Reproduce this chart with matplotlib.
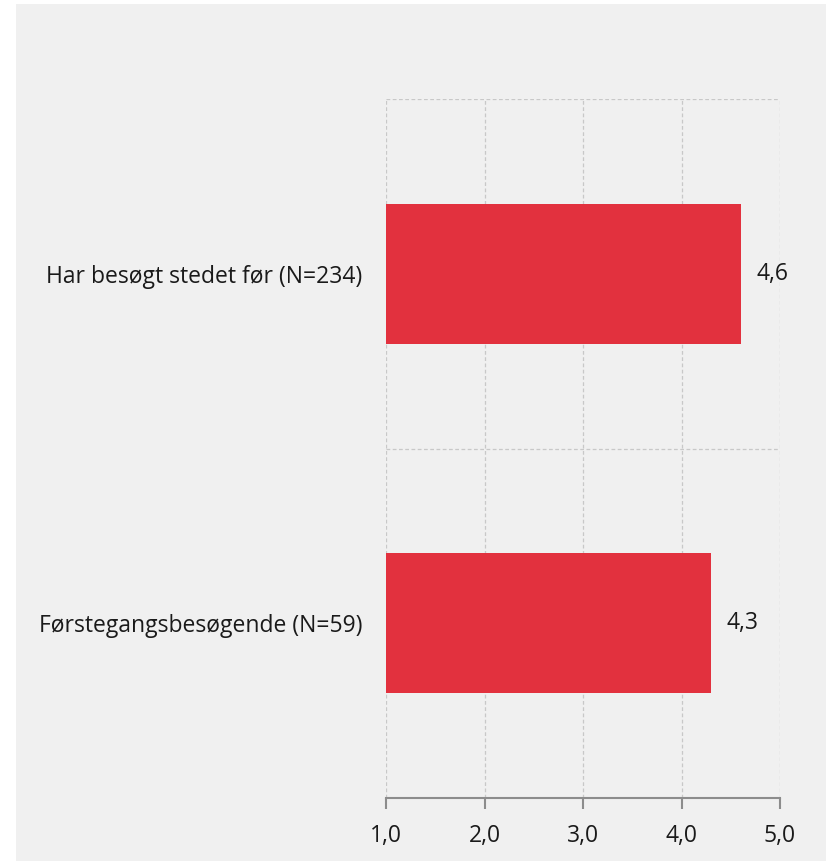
import matplotlib.pyplot as plt
from matplotlib.patches import Rectangle

categories = ["Førstegangsbesøgende (N=59)", "Har besøgt stedet før (N=234)"]
values = [4.3, 4.6]
xticks = [1.0, 2.0, 3.0, 4.0, 5.0]
xtick_labels = ["1,0", "2,0", "3,0", "4,0", "5,0"]

plt.rcParams["font.family"] = ["Open Sans", "DejaVu Sans"]

BG = "#f0f0f0"
BAR = "#e2313e"
GRID = "#c8c8c8"
FS = 16.5

fig = plt.figure(figsize=(8.26, 8.61), dpi=100)
fig.patch.set_facecolor("white")
fig.patches.append(Rectangle((16 / 826, 0), 1 - 16 / 826, 1 - 4 / 861,
                             transform=fig.transFigure, facecolor=BG,
                             edgecolor="none", zorder=-10))

ax = fig.add_axes([386 / 826, 1 - 798 / 861, (780 - 386) / 826, (798 - 99) / 861])
ax.patch.set_alpha(0)

ypos = list(range(len(categories)))
ax.barh(ypos, [v - 1.0 for v in values], left=1.0, height=0.4, color=BAR, zorder=3)

ax.set_xlim(1.0, 5.0)
ax.set_ylim(-0.5, len(categories) - 0.5)

# dashed grid
for x in xticks:
    ax.axvline(x, color=GRID, linestyle=(0, (3, 2)), linewidth=0.9, zorder=1)
for y in [0.5, 1.5]:
    ax.axhline(y, color=GRID, linestyle=(0, (3, 2)), linewidth=0.9, zorder=1)

for s in ["top", "right", "left"]:
    ax.spines[s].set_visible(False)
ax.spines["bottom"].set_color("#8c8c8c")
ax.spines["bottom"].set_linewidth(1.5)

ax.set_xticks(xticks)
ax.set_xticklabels(xtick_labels, fontsize=FS, color="#1a1a1a")
ax.tick_params(axis="x", length=8, width=1.5, color="#8c8c8c", pad=11)

ax.set_yticks(ypos)
ax.set_yticklabels(categories, fontsize=FS, color="#1a1a1a")
ax.tick_params(axis="y", length=0, pad=17)

for y, v in zip(ypos, values):
    ax.text(v + 0.16, y, f"{v:.1f}".replace(".", ","), va="center", ha="left",
            fontsize=FS, color="#1a1a1a")

fig.savefig("out.png", dpi=100, facecolor=fig.get_facecolor())
